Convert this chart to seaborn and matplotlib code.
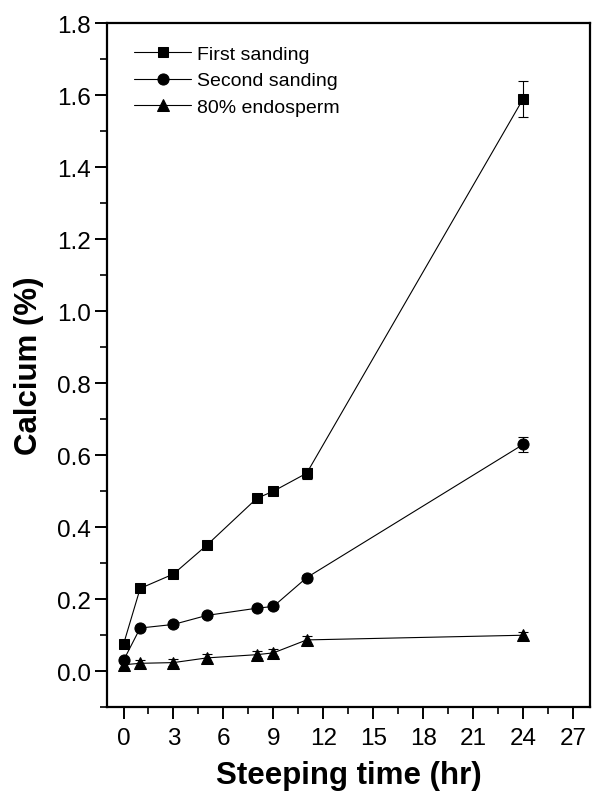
import numpy as np
import pandas as pd
import seaborn as sns
import matplotlib.pyplot as plt
from matplotlib.ticker import MultipleLocator

# steeping time (hr)
hours = [0, 1, 3, 5, 8, 9, 11, 24]
# calcium (%)
first_sanding = [0.075, 0.23, 0.27, 0.35, 0.48, 0.50, 0.55, 1.59]
second_sanding = [0.03, 0.12, 0.13, 0.155, 0.175, 0.18, 0.26, 0.63]
endosperm_80 = [0.018, 0.022, 0.024, 0.037, 0.046, 0.051, 0.087, 0.10]
# error bars
first_err = [0.005, 0.008, 0.008, 0.008, 0.008, 0.01, 0.015, 0.05]
second_err = [0.005, 0.006, 0.006, 0.006, 0.006, 0.006, 0.008, 0.02]
endo_err = [0.01, 0.01, 0.01, 0.01, 0.01, 0.01, 0.01, 0.01]

series = ['First sanding', 'Second sanding', '80% endosperm']

df = pd.concat([
    pd.DataFrame({'hr': hours, 'ca': first_sanding, 'err': first_err, 'series': series[0]}),
    pd.DataFrame({'hr': hours, 'ca': second_sanding, 'err': second_err, 'series': series[1]}),
    pd.DataFrame({'hr': hours, 'ca': endosperm_80, 'err': endo_err, 'series': series[2]}),
])

sns.set_style('ticks')
plt.rcParams['font.family'] = ['Liberation Sans', 'DejaVu Sans']
plt.rcParams['text.color'] = 'black'
plt.rcParams['axes.labelcolor'] = 'black'

fig = plt.figure(figsize=(5.97, 8.03), dpi=100)
ax = fig.add_axes([0.179, 0.118, 0.809, 0.852])

markers = {'First sanding': 's', 'Second sanding': 'o', '80% endosperm': '^'}
msizes = {'First sanding': 7, 'Second sanding': 8, '80% endosperm': 9}

for name in series:
    d = df[df['series'] == name]
    ax.errorbar(d['hr'], d['ca'], yerr=d['err'], fmt='none', ecolor='black',
                elinewidth=0.8, capsize=3.5, capthick=0.8, zorder=2)
    sns.lineplot(data=d, x='hr', y='ca', ax=ax, color='black', lw=0.8,
                 marker=markers[name], markersize=msizes[name],
                 markeredgecolor='black', markerfacecolor='black',
                 label=name, zorder=3)

ax.set_xlim(-1, 28)
ax.set_ylim(-0.1, 1.8)
ax.xaxis.set_major_locator(MultipleLocator(3))
ax.xaxis.set_minor_locator(MultipleLocator(1.5))
ax.yaxis.set_major_locator(MultipleLocator(0.2))
ax.yaxis.set_minor_locator(MultipleLocator(0.1))
ax.set_yticks(np.arange(0, 1.81, 0.2))
ax.set_yticklabels([f'{v:.1f}' for v in np.arange(0, 1.81, 0.2)])

for s in ax.spines.values():
    s.set_visible(True)
    s.set_linewidth(1.6)
    s.set_color('black')

ax.tick_params(which='major', direction='out', length=8.5, width=1.4,
               labelsize=17.5, colors='black')
ax.tick_params(axis='x', which='major', pad=6)
ax.tick_params(axis='y', which='major', pad=3)
ax.tick_params(which='minor', direction='out', length=5, width=1.2, colors='black')

ax.set_xlabel('Steeping time (hr)', fontsize=22.5, fontweight='bold', labelpad=8)
ax.set_ylabel('Calcium (%)', fontsize=22.5, fontweight='bold', labelpad=9)

leg = ax.legend(loc='upper left', frameon=False, fontsize=14,
                handlelength=2.9, borderaxespad=0.4, labelspacing=0.45,
                handletextpad=0.3, bbox_to_anchor=(0.025, 0.99))

fig.savefig('out.png', dpi=100)
